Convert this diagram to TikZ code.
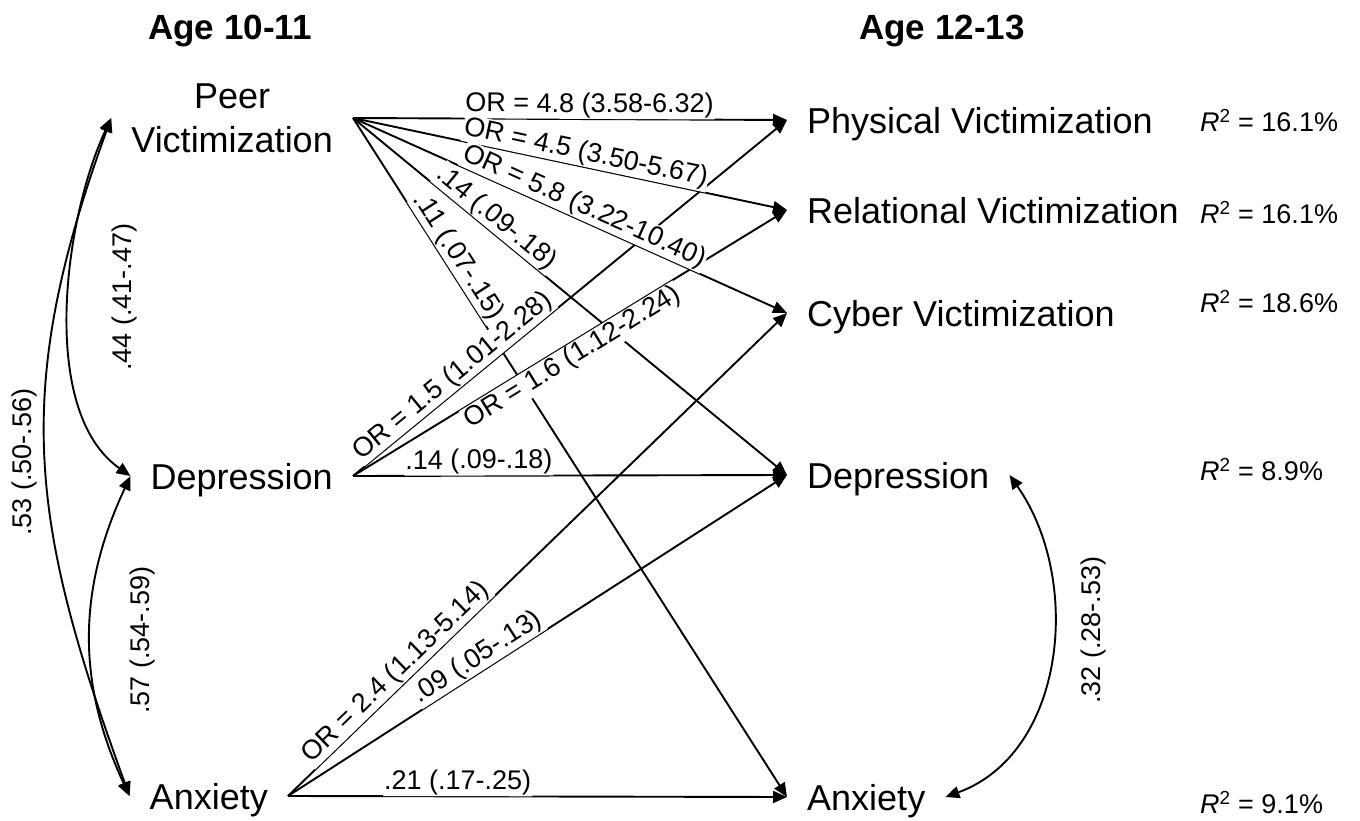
\documentclass[tikz,border=0pt]{standalone}
\usepackage{fontspec}
\setmainfont{Liberation Sans}
\usetikzlibrary{arrows.meta}
\tikzset{
  var/.style={font=\fontsize{36}{44}\selectfont, align=center,
    inner xsep=20pt, inner ysep=2pt, text depth=0pt},
  head/.style={font=\fontsize{35}{40}\selectfont\bfseries, inner sep=0pt},
  coef/.style={font=\fontsize{27}{30}\selectfont, fill=white, inner sep=1pt},
  rsq/.style={font=\fontsize{27}{30}\selectfont, inner sep=0pt},
  link/.style={->, line width=1.9pt},
  corr/.style={<->, line width=1.9pt}
}
% from/to/pos/anchor/label
\newcommand{\pathlist}{%
  peer/phys/0.545/south/{OR = 4.8 (3.58-6.32)},
  peer/rel/0.53/south/{OR = 4.5 (3.50-5.67)},
  peer/cyb/0.52/south/{OR = 5.8 (3.22-10.40)},
  peer/depB/0.31/south/{.14 (.09-.18)},
  peer/anxB/0.215/south/{.11 (.07-.15)},
  depA/phys/0.25/south/{OR = 1.5 (1.01-2.28)},
  depA/rel/0.49/north/{OR = 1.6 (1.12-2.24)},
  depA/depB/0.29/south/{.14 (.09-.18)},
  anxA/cyb/0.235/south/{OR = 2.4 (1.13-5.14)},
  anxA/depB/0.395/south/{.09 (.05-.13)},
  anxA/anxB/0.34/south/{.21 (.17-.25)}%
}

\begin{document}
\begin{tikzpicture}[x=1pt, y=-1pt, >={Triangle[length=14pt,width=12pt]}]
\useasboundingbox (0,0) rectangle (1360,821);

% headings
\node[head, anchor=base] (ageA) at (230,40) {Age 10-11};
\node[head, anchor=base] (ageB) at (942,40) {Age 12-13};

% age 10-11
\node[var, anchor=east] (peer) at (353,118) {Peer\\Victimization};
\node[var, anchor=east] (depA) at (353,476) {Depression};
\node[var, anchor=east] (anxA) at (288,796) {Anxiety};

% age 12-13
\node[var, anchor=west] (phys) at (787,120) {Physical Victimization};
\node[var, anchor=west] (rel)  at (787,210) {Relational Victimization};
\node[var, anchor=west] (cyb)  at (787,313) {Cyber Victimization};
\node[var, anchor=west] (depB) at (787,475) {Depression};
\node[var, anchor=west] (anxB) at (787,797) {Anxiety};

% explained variance
\foreach \n/\y/\v in {phys/121/16.1, rel/213/16.1, cyb/302/18.6, depB/470/8.9, anxB/803/9.1}
  \node[rsq, anchor=west] (r-\n) at (1200,\y) {\textit{R}\textsuperscript{2} = \v\%};

% correlations
\draw[corr] (peer.west) to[out=245, in=145, looseness=0.8] (depA.west);
\draw[corr] (peer.west) to[out=250, in=110, looseness=1.1] (anxA.west);
\draw[corr] (depA.west) to[out=245, in=115] (anxA.west);
\draw[corr] (depB.east) to[out=-55, in=20] (anxB.east);
\node[coef, rotate=90] (c44) at (125,297) {.44 (.41-.47)};
\node[coef, rotate=90] (c53) at (25,462) {.53 (.50-.56)};
\node[coef, rotate=90] (c57) at (143,640) {.57 (.54-.59)};
\node[coef, rotate=90] (c32) at (1093,630) {.32 (.28-.53)};

% paths, then their labels on top
\foreach \a/\b/\p/\s/\lbl in \pathlist
  \draw[link] (\a.east) -- (\b.west);
\foreach \a/\b/\p/\s/\lbl in \pathlist
  \path (\a.east) -- (\b.west) node[coef, sloped, pos=\p, anchor=\s] {\lbl};
\end{tikzpicture}
\end{document}
